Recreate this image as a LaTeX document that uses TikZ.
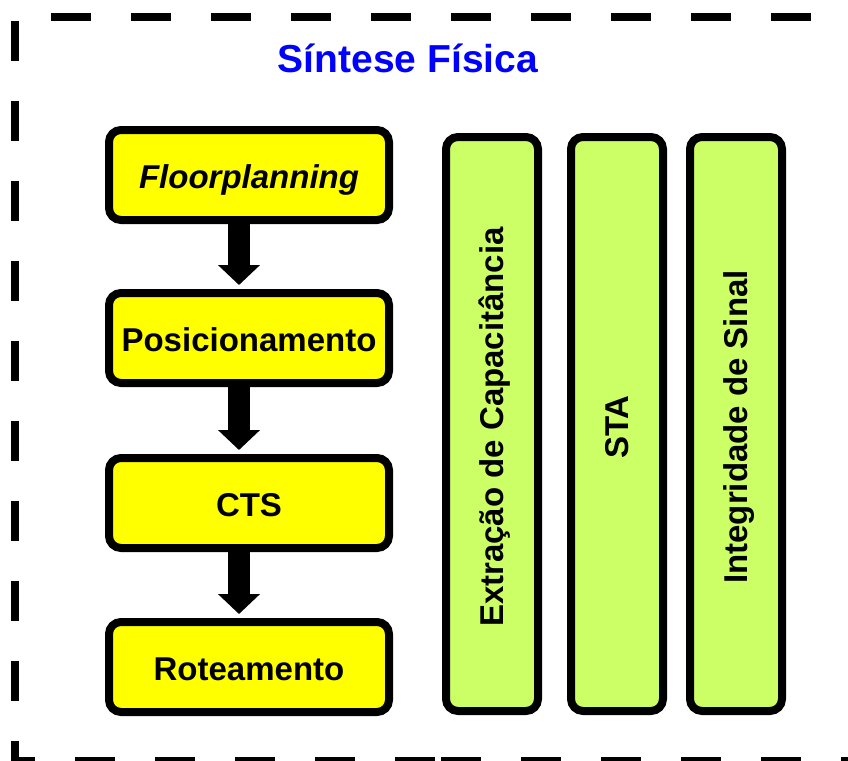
\documentclass[tikz,border=0pt]{standalone}
\usepackage{fontspec}
\setmainfont{Liberation Sans}
\usetikzlibrary{arrows.meta}
\definecolor{stepyellow}{RGB}{255,255,0}
\definecolor{checkgreen}{RGB}{204,255,102}
\definecolor{titleblue}{RGB}{0,0,255}
% vertical label: caps centred across the bar, nudged slightly towards the bottom
\newcommand{\uptext}[1]{\rotatebox{90}{\kern-6pt\raisebox{0pt}[23.6pt][0pt]{#1}}}

\begin{document}
\begin{tikzpicture}[x=1pt,y=-1pt,
  flowbox/.style={draw=black, line width=8pt, rounded corners=12pt, fill=stepyellow,
    minimum width=280pt, minimum height=90pt, inner sep=0pt,
    font=\fontsize{33}{40}\selectfont\bfseries, text height=27.6pt, text depth=0pt},
  checkbox/.style={draw=black, line width=8pt, rounded corners=12pt, fill=checkgreen,
    minimum width=92pt, minimum height=574pt, inner sep=0pt,
    font=\fontsize{33}{40}\selectfont\bfseries},
  flowarrow/.style={line width=22pt, -{Triangle[width=41pt,length=20pt]}, shorten >=4pt},
  frame/.style={line width=8pt, dash pattern=on 40pt off 40pt}
]
\useasboundingbox (0,0) rectangle (848,760);
\clip (0,0) rectangle (848,760);

% dashed enclosure, partly outside the page
\draw[frame] (435,761) -- (15,761) -- (15,17) -- (894,17) -- (894,761) -- cycle;

% title
\node[font=\fontsize{39}{46}\selectfont\bfseries, text=titleblue, anchor=base]
  (title) at (408,73) {Síntese Física};

% flow steps
\node[flowbox] (fp)  at (249,175) {\itshape Floorplanning};
\node[flowbox] (pos) at (249,338) {Posicionamento};
\node[flowbox] (cts) at (249,503) {CTS};
\node[flowbox] (rot) at (249,667) {Roteamento};

% arrows between steps
\draw[flowarrow] ([xshift=-10pt]fp.south)  -- ([xshift=-10pt]pos.north);
\draw[flowarrow] ([xshift=-10pt]pos.south) -- ([xshift=-10pt]cts.north);
\draw[flowarrow] ([xshift=-10pt]cts.south) -- ([xshift=-10pt]rot.north);

% analyses running alongside
\node[checkbox] (cap) at (492,424) {\uptext{Extração de Capacitância}};
\node[checkbox] (sta) at (617,424) {\uptext{STA}};
\node[checkbox] (si)  at (736,424) {\uptext{Integridade de Sinal}};
\end{tikzpicture}
\end{document}
